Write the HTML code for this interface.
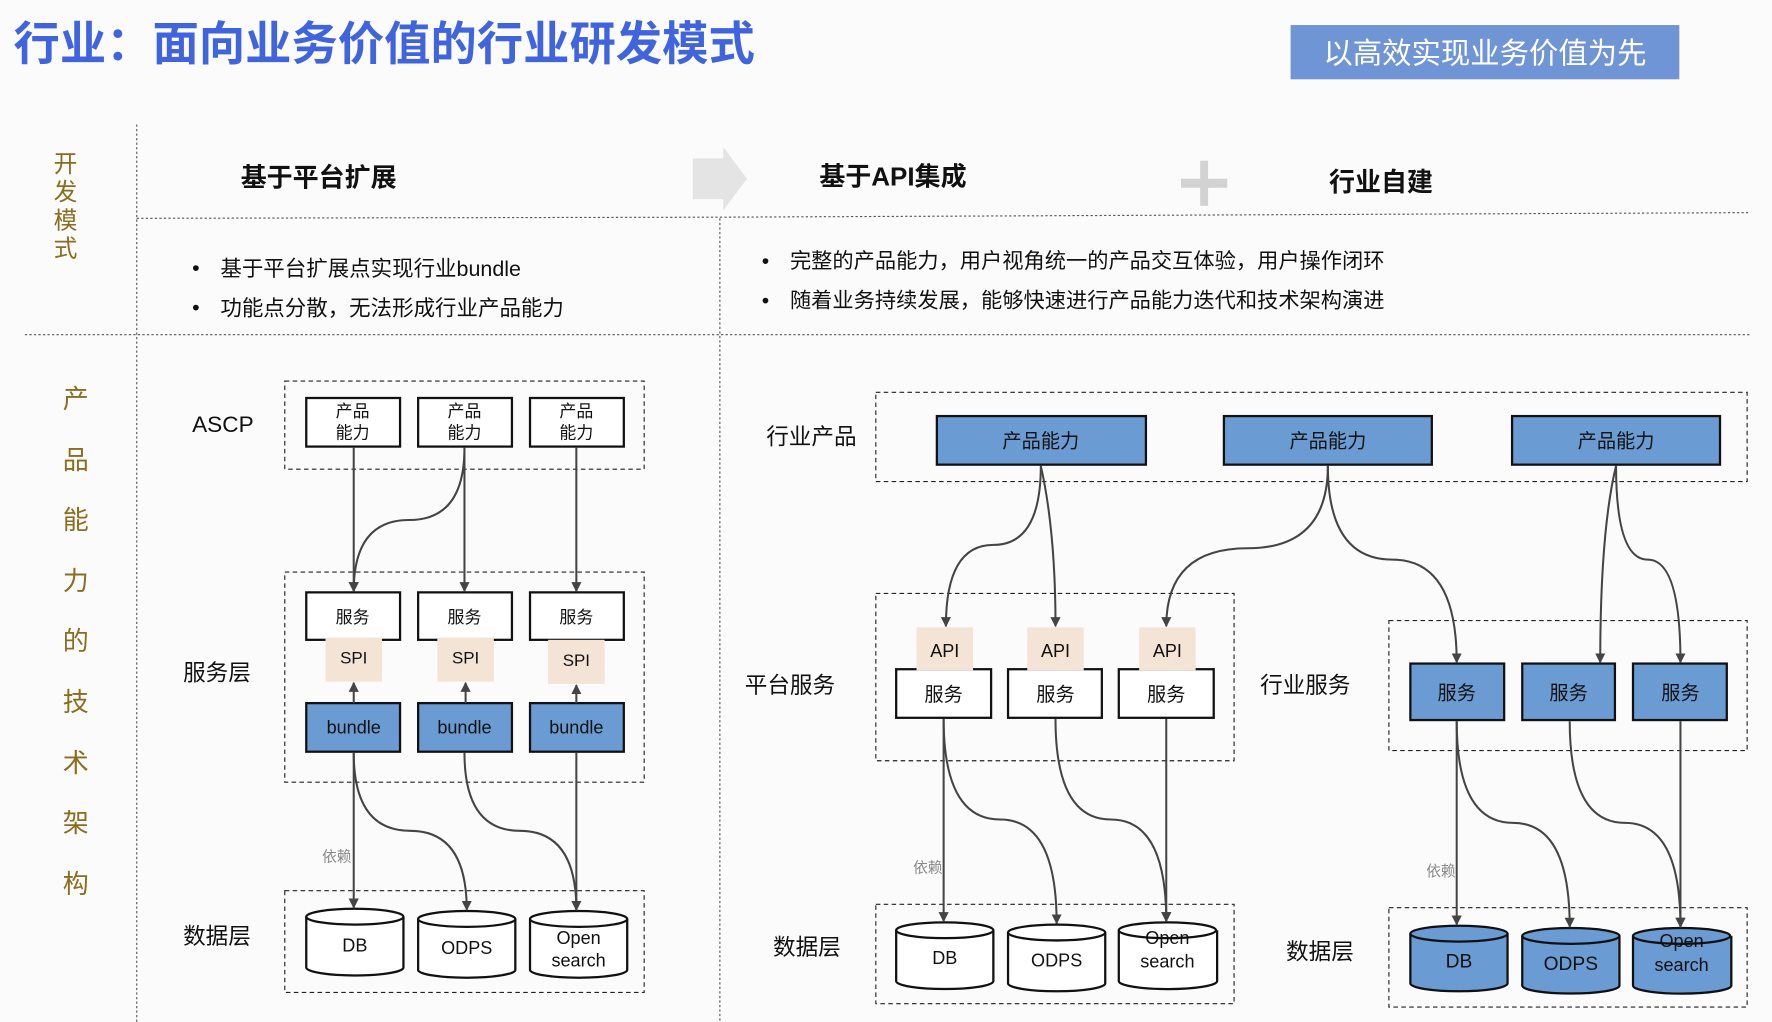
<!DOCTYPE html>
<html><head><meta charset="utf-8"><style>
html,body{margin:0;padding:0;background:#fbfbfb;}
svg{display:block;}
text{font-family:"Liberation Sans","Noto Sans CJK SC",sans-serif;}
</style></head><body>
<svg width="1772" height="1022" viewBox="0 0 1568 904" xmlns="http://www.w3.org/2000/svg">
<defs>
<marker id="a" viewBox="0 0 10 10" refX="9" refY="5" markerWidth="5" markerHeight="5" orient="auto-start-reverse"><path d="M0,0 L10,5 L0,10 z" fill="#444"/></marker>
</defs>
<rect width="1568" height="904" fill="#fbfbfb"/>
<text x="12" y="53" font-size="41" font-weight="bold" fill="#3f64de">行业：面向业务价值的行业研发模式</text>
<rect x="1142" y="22" width="344" height="48" fill="#6f95d4"/>
<text x="1314" y="56" font-size="26" fill="#fff" text-anchor="middle">以高效实现业务价值为先</text>
<g stroke="#555" stroke-width="1" stroke-dasharray="2,2" fill="none">
<line x1="121" y1="110" x2="121" y2="904"/>
<line x1="637" y1="193" x2="637" y2="904"/>
<line x1="121" y1="193" x2="637" y2="192"/>
<line x1="637" y1="192" x2="1548" y2="188"/>
<line x1="22" y1="296" x2="1548" y2="296"/>
</g>
<g font-size="21" fill="#8b6d1f" text-anchor="middle">
<text x="58" y="152">开</text><text x="58" y="177">发</text><text x="58" y="202">模</text><text x="58" y="227">式</text>
</g>
<g font-size="23" fill="#8b6d1f" text-anchor="middle">
<text x="67" y="361">产</text><text x="67" y="415">品</text><text x="67" y="468">能</text><text x="67" y="522">力</text><text x="67" y="575">的</text><text x="67" y="629">技</text><text x="67" y="683">术</text><text x="67" y="736">架</text><text x="67" y="790">构</text>
</g>
<text x="213" y="165" font-size="23" font-weight="bold" fill="#111">基于平台扩展</text>
<path d="M613,140 L640,140 L640,130 L661,158 L640,186 L640,176 L613,176 z" fill="#e4e4e4"/>
<text x="725" y="164" font-size="23" font-weight="bold" fill="#111">基于API集成</text>
<rect x="1062" y="142" width="7" height="40" fill="#d2d2d2"/><rect x="1045" y="158" width="41" height="8" fill="#d2d2d2"/>
<text x="1176" y="169" font-size="23" font-weight="bold" fill="#111">行业自建</text>
<g font-size="19" fill="#111">
<text x="170" y="243">•</text><text x="195" y="244">基于平台扩展点实现行业bundle</text>
<text x="170" y="278">•</text><text x="195" y="279">功能点分散，无法形成行业产品能力</text>
</g>
<g font-size="18.8" fill="#111">
<text x="674" y="237">•</text><text x="699" y="237">完整的产品能力，用户视角统一的产品交互体验，用户操作闭环</text>
<text x="674" y="272">•</text><text x="699" y="272">随着业务持续发展，能够快速进行产品能力迭代和技术架构演进</text>
</g>
<g stroke="#222" stroke-width="1" stroke-dasharray="4,3" fill="none">
<rect x="252" y="337" width="318" height="78"/>
<rect x="252" y="506" width="318" height="186"/>
<rect x="252" y="788" width="318" height="90"/>
<rect x="775" y="347" width="771" height="79"/>
<rect x="775" y="525" width="317" height="148"/>
<rect x="1229" y="549" width="317" height="115"/>
<rect x="775" y="800" width="317" height="88"/>
<rect x="1229" y="803" width="317" height="88"/>
</g>
<g font-size="20" fill="#111">
<text x="170" y="382">ASCP</text>
<text x="162" y="602">服务层</text>
<text x="162" y="835">数据层</text>
<text x="678" y="393">行业产品</text>
<text x="659" y="613">平台服务</text>
<text x="1115" y="613">行业服务</text>
<text x="684" y="845">数据层</text>
<text x="1138" y="849">数据层</text>
</g>
<g font-size="13" fill="#888"><text x="285" y="762">依赖</text><text x="808" y="772">依赖</text><text x="1262" y="775">依赖</text></g>
<g stroke="#111" stroke-width="2">
<rect x="271" y="352" width="83" height="43" fill="#fff"/><rect x="370" y="352" width="83" height="43" fill="#fff"/><rect x="469" y="352" width="83" height="43" fill="#fff"/>
<rect x="271" y="524" width="83" height="42" fill="#fff"/><rect x="370" y="524" width="83" height="42" fill="#fff"/><rect x="469" y="524" width="83" height="42" fill="#fff"/>
<rect x="271" y="622" width="83" height="43" fill="#6a9bd2"/><rect x="370" y="622" width="83" height="43" fill="#6a9bd2"/><rect x="469" y="622" width="83" height="43" fill="#6a9bd2"/>
</g>
<g fill="#f4e4d6"><rect x="288" y="564" width="50" height="39"/><rect x="387" y="564" width="50" height="39"/><rect x="485" y="566" width="50" height="39"/></g>
<g font-size="15" fill="#111" text-anchor="middle">
<text x="312" y="369">产品</text><text x="312" y="388">能力</text>
<text x="411" y="369">产品</text><text x="411" y="388">能力</text>
<text x="510" y="369">产品</text><text x="510" y="388">能力</text>
<text x="312" y="551">服务</text><text x="411" y="551">服务</text><text x="510" y="551">服务</text>
<text x="313" y="587">SPI</text><text x="412" y="587">SPI</text><text x="510" y="589">SPI</text>
<text x="313" y="649" font-size="16">bundle</text><text x="411" y="649" font-size="16">bundle</text><text x="510" y="649" font-size="16">bundle</text>
</g>
<g stroke="#111" stroke-width="2">
<rect x="829" y="368" width="185" height="43" fill="#6a9bd2"/><rect x="1083" y="368" width="184" height="43" fill="#6a9bd2"/><rect x="1338" y="368" width="184" height="43" fill="#6a9bd2"/>
<rect x="793" y="592" width="84" height="43" fill="#fff"/><rect x="892" y="592" width="83" height="43" fill="#fff"/><rect x="990" y="592" width="84" height="43" fill="#fff"/>
<rect x="1248" y="587" width="83" height="50" fill="#6a9bd2"/><rect x="1347" y="587" width="82" height="50" fill="#6a9bd2"/><rect x="1445" y="587" width="83" height="50" fill="#6a9bd2"/>
</g>
<g fill="#f4e4d6"><rect x="811" y="555" width="50" height="38"/><rect x="909" y="555" width="50" height="38"/><rect x="1008" y="555" width="50" height="38"/></g>
<g font-size="17" fill="#111" text-anchor="middle">
<text x="921" y="396">产品能力</text><text x="1175" y="396">产品能力</text><text x="1430" y="396">产品能力</text>
<text x="835" y="620">服务</text><text x="934" y="620">服务</text><text x="1032" y="620">服务</text>
<text x="1289" y="619">服务</text><text x="1388" y="619">服务</text><text x="1487" y="619">服务</text>
<text x="836" y="581" font-size="16">API</text><text x="934" y="581" font-size="16">API</text><text x="1033" y="581" font-size="16">API</text>
</g>
<g stroke="#111" stroke-width="2">
<g fill="#fff">
<path d="M271,811 v45 a43,7 0 0 0 86,0 v-45"/><ellipse cx="314" cy="811" rx="43" ry="7"/>
<path d="M370,813 v45 a43,7 0 0 0 86,0 v-45"/><ellipse cx="413" cy="813" rx="43" ry="7"/>
<path d="M469,813 v45 a43,7 0 0 0 86,0 v-45"/><ellipse cx="512" cy="813" rx="43" ry="7"/>
<path d="M793,823 v45 a43,7 0 0 0 86,0 v-45"/><ellipse cx="836" cy="823" rx="43" ry="7"/>
<path d="M892,825 v45 a43,7 0 0 0 86,0 v-45"/><ellipse cx="935" cy="825" rx="43" ry="7"/>
<path d="M990,823 v45 a43,7 0 0 0 87,0 v-45"/><ellipse cx="1033" cy="823" rx="43" ry="7"/>
</g>
<g fill="#6a9bd2">
<path d="M1248,826 v44 a43,7 0 0 0 86,0 v-44"/><ellipse cx="1291" cy="826" rx="43" ry="7"/>
<path d="M1347,828 v44 a43,7 0 0 0 86,0 v-44"/><ellipse cx="1390" cy="828" rx="43" ry="7"/>
<path d="M1445,828 v44 a43,7 0 0 0 87,0 v-44"/><ellipse cx="1488" cy="828" rx="43" ry="7"/>
</g>
</g>
<g font-size="16" fill="#111" text-anchor="middle">
<text x="314" y="842">DB</text><text x="413" y="844">ODPS</text><text x="512" y="835">Open</text><text x="512" y="855">search</text>
<text x="836" y="853">DB</text><text x="935" y="855">ODPS</text><text x="1033" y="835">Open</text><text x="1033" y="856">search</text>
<text x="1291" y="856" font-size="17">DB</text><text x="1390" y="858" font-size="17">ODPS</text><text x="1488" y="838">Open</text><text x="1488" y="859">search</text>
</g>
<g stroke="#444" stroke-width="1.8" fill="none" marker-end="url(#a)">
<path d="M313,396 L313,523"/>
<path d="M411,396 Q411,460 362,460 Q313,460 313,523"/>
<path d="M411,396 L411,523"/>
<path d="M510,396 L510,523"/>
<path d="M313,622 L313,604"/><path d="M412,622 L412,604"/><path d="M510,622 L510,606"/>
<path d="M313,666 L313,803"/>
<path d="M313,666 Q313,735 363,735 Q413,735 413,805"/>
<path d="M411,666 Q411,735 460,735 Q510,735 510,805"/>
<path d="M510,666 L510,805"/>
<path d="M921,412 Q921,482 879,482 Q837,482 837,554"/>
<path d="M921,412 Q934,470 934,554"/>
<path d="M1175,412 Q1175,485 1104,485 Q1032,485 1032,554"/>
<path d="M1175,412 Q1175,495 1232,495 Q1289,495 1289,586"/>
<path d="M1430,412 Q1416,470 1416,586"/>
<path d="M1430,412 Q1430,495 1458,495 Q1487,495 1487,586"/>
<path d="M835,636 L835,815"/>
<path d="M835,636 Q835,725 885,725 Q935,725 935,817"/>
<path d="M934,636 Q934,725 983,725 Q1032,725 1032,815"/>
<path d="M1032,636 L1032,815"/>
<path d="M1289,638 L1289,818"/>
<path d="M1289,638 Q1289,728 1339,728 Q1389,728 1389,820"/>
<path d="M1389,638 Q1389,728 1438,728 Q1487,728 1487,820"/>
<path d="M1487,638 L1487,820"/>
</g>
</svg>
</body></html>
